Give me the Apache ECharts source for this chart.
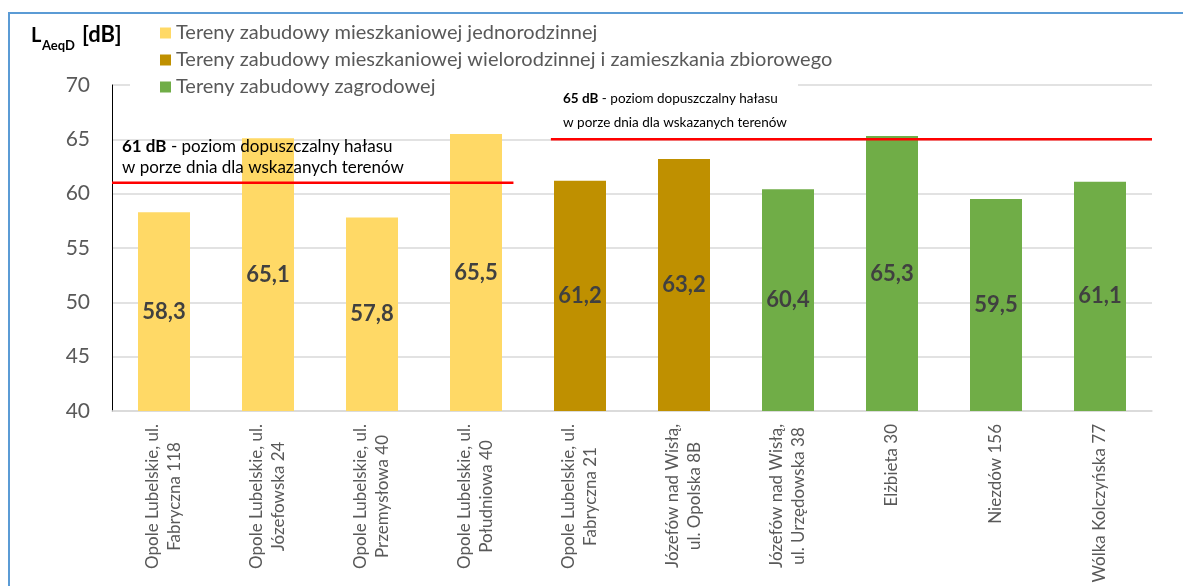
<!DOCTYPE html>
<html>
<head>
<meta charset="utf-8">
<script src="https://cdn.jsdelivr.net/npm/echarts@6/dist/echarts.min.js"></script>
<style>
  html, body { margin: 0; padding: 0; background: #ffffff; }
  #chart { width: 1183px; height: 586px; }
</style>
</head>
<body>
<div id="chart"></div>
<script>
// Measurement points (two-line labels)
const categories = [
  'Opole Lubelskie, ul.\nFabryczna 118',
  'Opole Lubelskie, ul.\nJózefowska 24',
  'Opole Lubelskie, ul.\nPrzemysłowa 40',
  'Opole Lubelskie, ul.\nPołudniowa 40',
  'Opole Lubelskie, ul.\nFabryczna 21',
  'Józefów nad Wisłą,\nul. Opolska 8B',
  'Józefów nad Wisłą,\nul. Urzędowska 38',
  'Elżbieta 30',
  'Niezdów 156',
  'Wólka Kolczyńska 77'
];

// Daytime equivalent sound level, dB
const values = [58.3, 65.1, 57.8, 65.5, 61.2, 63.2, 60.4, 65.3, 59.5, 61.1];

// Land-use type of each point (index into groupNames)
const groupOf = [0, 0, 0, 0, 1, 1, 2, 2, 2, 2];
const groupNames = [
  'Tereny zabudowy mieszkaniowej jednorodzinnej',
  'Tereny zabudowy mieszkaniowej wielorodzinnej i zamieszkania zbiorowego',
  'Tereny zabudowy zagrodowej'
];
const groupColors = ['#FFD966', '#BF9000', '#70AD47'];

// Value axis range and step
const yMin = 40, yMax = 70, yStep = 5;

// Permissible daytime levels: [position along the category axis, dB]
const limit61 = [[0, 61], [3.86, 61]];
const limit65 = [[4.22, 65], [10, 65]];

const FONT = 'Lato';

const chart = echarts.init(document.getElementById('chart'), null, { renderer: 'canvas' });

const barSeries = groupNames.map((name, g) => ({
  name: name,
  type: 'bar',
  xAxisIndex: 0,
  yAxisIndex: 0,
  barWidth: '50%',
  barGap: '-100%',
  itemStyle: { color: groupColors[g] },
  data: values.map((v, i) => (groupOf[i] === g ? v : '-')),
  label: {
    show: true,
    position: 'inside',
    fontFamily: FONT,
    fontWeight: 'bold',
    fontSize: 22,
    color: '#404040',
    formatter: p => String(p.value).replace('.', ',')
  },
  z: 2
}));

const limitLine = data => ({
  type: 'line',
  xAxisIndex: 1,
  yAxisIndex: 0,
  data: data,
  symbol: 'none',
  silent: true,
  clip: false,
  lineStyle: { color: '#FF0000', width: 2.5 },
  z: 10
});

const option = {
  backgroundColor: '#ffffff',
  animation: false,
  grid: {
    left: 112, right: 31, top: 85, bottom: 175,
    containLabel: false,
    outerBoundsMode: 'none'
  },
  legend: {
    data: groupNames,
    orient: 'vertical',
    left: 130,
    top: 18,
    padding: [5, 10, 5, 30],
    itemWidth: 11,
    itemHeight: 11,
    itemGap: 7,
    icon: 'rect',
    textStyle: { fontFamily: FONT, fontSize: 20, color: '#595959' }
  },
  xAxis: [
    {
      type: 'category',
      data: categories,
      axisLine: { lineStyle: { color: '#D9D9D9', width: 1.5 } },
      axisTick: { show: false },
      axisLabel: {
        interval: 0,
        rotate: 90,
        margin: 13,
        hideOverlap: false,
        formatter: v => v.split('\n').map(s => '{c|' + s + '}').join('\n'),
        rich: {
          c: { align: 'center', fontFamily: FONT, fontSize: 17, color: '#595959', lineHeight: 22 }
        }
      }
    },
    { type: 'value', min: 0, max: 10, show: false, position: 'top' }
  ],
  yAxis: {
    type: 'value',
    min: yMin,
    max: yMax,
    interval: yStep,
    axisLine: { show: true, onZero: false, lineStyle: { color: '#000000', width: 1 } },
    axisTick: { show: false },
    axisLabel: { fontFamily: FONT, fontSize: 21, color: '#595959', margin: 22 },
    splitLine: { lineStyle: { color: '#D9D9D9', width: 1.5 } }
  },
  series: [...barSeries, limitLine(limit61), limitLine(limit65)],
  graphic: [
    {
      type: 'rect',
      shape: { x: 9, y: 13, width: 1400, height: 800 },
      style: { fill: 'none', stroke: '#5B9BD5', lineWidth: 2 },
      silent: true,
      z: 20
    },
    // white legend backing over the top gridline
    {
      type: 'rect', z: 1, silent: true,
      shape: { x: 130, y: 80, width: 668, height: 10 },
      style: { fill: '#ffffff' }
    },
    {
      type: 'text', left: 31, top: 26, z: 20,
      style: { text: 'L', fill: '#000000', font: 'bold 20px ' + FONT }
    },
    {
      type: 'text', left: 42, top: 39, z: 20,
      style: { text: 'AeqD', fill: '#000000', font: 'bold 13px ' + FONT }
    },
    {
      type: 'text', left: 82, top: 24, z: 20,
      style: { text: '[dB]', fill: '#000000', font: 'bold 22px ' + FONT }
    },
    {
      type: 'text', left: 122, top: 138, z: 5,
      style: {
        text: '{b|61 dB}{n| - poziom dopuszczalny hałasu}\n{n|w porze dnia dla wskazanych terenów}',
        rich: {
          b: { fontFamily: FONT, fontSize: 17, fontWeight: 'bold', fill: '#000000', lineHeight: 21 },
          n: { fontFamily: FONT, fontSize: 17, fill: '#000000', lineHeight: 21 }
        }
      }
    },
    {
      type: 'text', left: 563, top: 92, z: 5,
      style: {
        text: '{b|65 dB}{n| - poziom dopuszczalny hałasu}\n{n|w porze dnia dla wskazanych terenów}',
        rich: {
          b: { fontFamily: FONT, fontSize: 13.5, fontWeight: 'bold', fill: '#000000', lineHeight: 24 },
          n: { fontFamily: FONT, fontSize: 13.5, fill: '#000000', lineHeight: 24 }
        }
      }
    }
  ]
};

chart.setOption(option);
</script>
</body>
</html>
